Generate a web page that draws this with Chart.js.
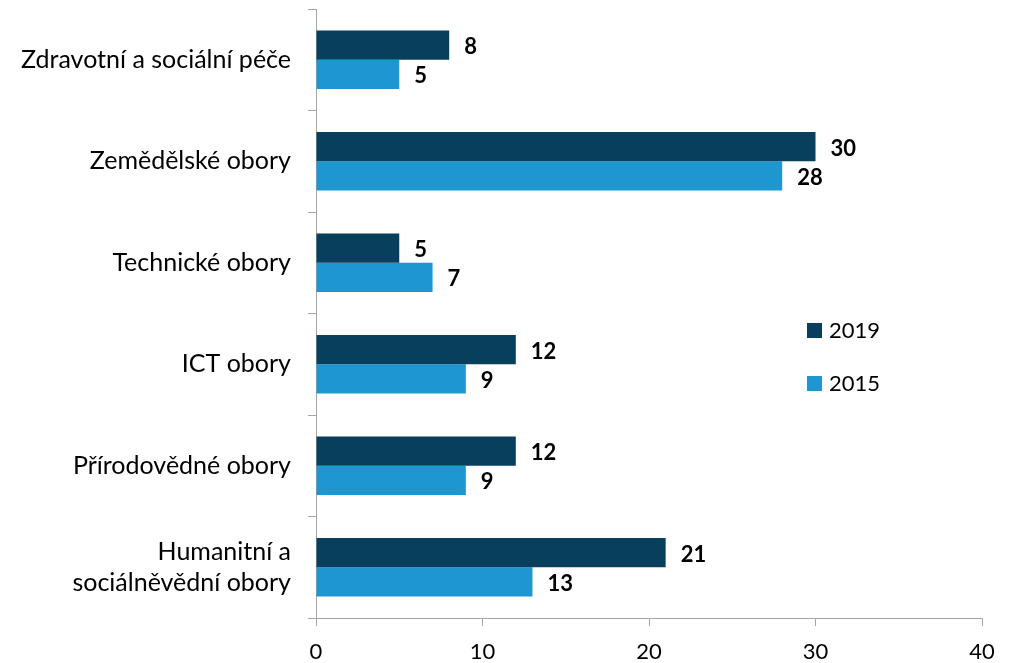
<!DOCTYPE html>
<html>
<head>
<meta charset="utf-8">
<script src="https://cdn.jsdelivr.net/npm/chart.js@4/dist/chart.umd.min.js"></script>
<style>
html,body{margin:0;padding:0;background:#fff;}
#wrap{position:relative;width:1018px;height:663px;}
</style>
</head>
<body>
<div id="wrap"><canvas id="c" width="1018" height="663"></canvas></div>
<script>
const categories = [
  'Zdravotní a sociální péče',
  'Zemědělské obory',
  'Technické obory',
  'ICT obory',
  'Přírodovědné obory',
  ['Humanitní a', 'sociálněvědní obory']
];
const values2019 = [8, 30, 5, 12, 12, 21];
const values2015 = [5, 28, 7, 9, 9, 13];
const seriesNames = ['2019', '2015'];
const xTicks = [0, 10, 20, 30, 40];

const FONT = 'Lato, "Open Sans", sans-serif';
const AXIS = '#a6a6a6';

const valueLabels = {
  id: 'valueLabels',
  afterDatasetsDraw(chart) {
    const ctx = chart.ctx;
    ctx.save();
    ctx.font = 'bold 22px ' + FONT;
    ctx.fillStyle = '#000';
    ctx.textAlign = 'left';
    ctx.textBaseline = 'middle';
    chart.data.datasets.forEach((ds, i) => {
      chart.getDatasetMeta(i).data.forEach((bar, j) => {
        ctx.fillText(String(ds.data[j]), bar.x + 15, bar.y + 2);
      });
    });
    ctx.restore();
  }
};

const sideLegend = {
  id: 'sideLegend',
  afterDraw(chart) {
    const ctx = chart.ctx;
    ctx.save();
    ctx.font = '22px ' + FONT;
    ctx.textBaseline = 'middle';
    ctx.textAlign = 'left';
    chart.data.datasets.forEach((ds, i) => {
      const y = 330 + i * 53;
      ctx.fillStyle = ds.backgroundColor;
      ctx.fillRect(807, y - 7, 15, 15);
      ctx.fillStyle = '#000';
      ctx.fillText(ds.label, 829, y + 1);
    });
    ctx.restore();
  }
};

new Chart(document.getElementById('c'), {
  type: 'bar',
  data: {
    labels: categories,
    datasets: [
      { label: seriesNames[0], data: values2019, backgroundColor: '#073f5c' },
      { label: seriesNames[1], data: values2015, backgroundColor: '#1e96cf' }
    ]
  },
  options: {
    indexAxis: 'y',
    responsive: false,
    animation: false,
    devicePixelRatio: 1,
    layout: { padding: { top: 9, right: 36, left: 0, bottom: 0 } },
    datasets: { bar: { categoryPercentage: 0.577, barPercentage: 1.0 } },
    plugins: { legend: { display: false }, tooltip: { enabled: false } },
    scales: {
      x: {
        min: 0, max: 40,
        afterBuildTicks(axis) { axis.ticks = xTicks.map(v => ({ value: v })); },
        afterFit(axis) {
          axis.height = 45;
          axis.paddingLeft = 0; axis.paddingRight = 0;
        },
        border: { color: AXIS, width: 1 },
        grid: { drawOnChartArea: false, drawTicks: true, tickLength: 8, color: AXIS },
        ticks: { font: { family: FONT, size: 22 }, color: '#000', padding: 13 }
      },
      y: {
        afterFit(axis) {
          axis.width = 316;
          axis.paddingTop = 0; axis.paddingBottom = 0;
        },
        border: { color: AXIS, width: 1 },
        grid: { drawOnChartArea: false, drawTicks: true, tickLength: 8, color: AXIS, offset: true },
        ticks: { font: { family: FONT, size: 25, lineHeight: 1.25 }, color: '#000', padding: 17, autoSkip: false }
      }
    }
  },
  plugins: [valueLabels, sideLegend]
});
</script>
</body>
</html>
